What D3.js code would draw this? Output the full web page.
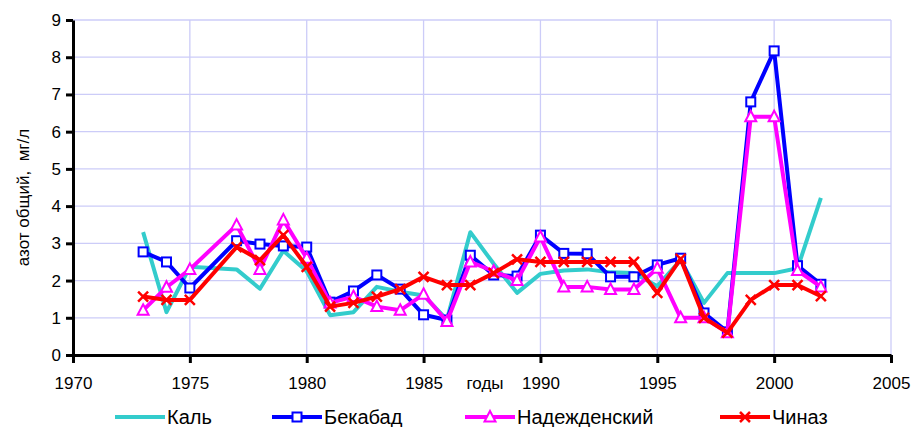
<!DOCTYPE html>
<html>
<head>
<meta charset="utf-8">
<script src="https://cdn.jsdelivr.net/npm/d3@7"></script>
<style>
  body { margin: 0; background: #fff; }
  svg { font-family: "Liberation Sans", Arial, sans-serif; }
</style>
</head>
<body>
<div id="chart"></div>
<script>
// data
var years = [1973, 1974, 1975, 1976, 1977, 1978, 1979, 1980, 1981, 1982,
             1983, 1984, 1985, 1986, 1987, 1988, 1989, 1990, 1991, 1992,
             1993, 1994, 1995, 1996, 1997, 1998, 1999, 2000, 2001, 2002];
var kal = [3.3, 1.15, 2.37, null, 2.3, 1.78, 2.8, 2.25, 1.07, 1.15,
           1.83, 1.7, 1.6, 0.95, 3.3, 2.45, 1.67, 2.18, 2.27, 2.3,
           2.22, 2.2, 1.85, 2.55, 1.4, 2.2, 2.2, 2.2, 2.33, 4.22];
var bekabad = [2.77, 2.5, 1.8, null, 3.07, 2.98, 2.93, 2.9, 1.42, 1.72,
               2.15, 1.77, 1.08, 0.94, 2.68, 2.15, 2.12, 3.22, 2.73, 2.72,
               2.1, 2.1, 2.42, 2.6, 1.13, 0.62, 6.8, 8.17, 2.4, 1.9];
var nadezh = [1.2, 1.82, 2.3, null, 3.49, 2.3, 3.63, 2.6, 1.4, 1.57,
              1.3, 1.2, 1.63, 0.9, 2.5, 2.25, 2.0, 3.17, 1.83, 1.83,
              1.76, 1.76, 2.33, 1.0, 1.0, 0.6, 6.4, 6.4, 2.27, 1.83];
var chinaz = [1.57, 1.48, 1.48, null, 2.9, 2.55, 3.22, 2.37, 1.3, 1.4,
              1.57, 1.77, 2.1, 1.88, 1.88, 2.2, 2.57, 2.5, 2.5, 2.5,
              2.5, 2.5, 1.67, 2.58, 1.0, 0.6, 1.48, 1.88, 1.88, 1.58];
var seriesNames = ["Каль", "Бекабад", "Надежденский", "Чиназ"];
var xTicks = [1970, 1975, 1980, 1985, 1990, 1995, 2000, 2005];
var yTicks = [0, 1, 2, 3, 4, 5, 6, 7, 8, 9];

var w = 912, h = 427;
var plotL = 73, plotR = 891, plotT = 20, plotB = 355;

var svg = d3.select("#chart").append("svg")
    .attr("width", w)
    .attr("height", h);

var x = d3.scaleLinear().domain([1970, 2005]).range([plotL, plotR]);
var y = d3.scaleLinear().domain([0, 9]).range([plotB, plotT]);

var series = [
  {name: seriesNames[0], values: kal, color: "#33cccc", marker: "none"},
  {name: seriesNames[1], values: bekabad, color: "#0000ff", marker: "square"},
  {name: seriesNames[2], values: nadezh, color: "#ff00ff", marker: "triangle"},
  {name: seriesNames[3], values: chinaz, color: "#ff0000", marker: "cross"}
];

// grid
var grid = svg.append("g").attr("class", "grid")
    .attr("stroke", "#ccccf8").attr("stroke-width", 1.3);
grid.selectAll("line.h")
    .data(yTicks.slice(1))
  .enter().append("line")
    .attr("x1", plotL).attr("x2", plotR)
    .attr("y1", function(d) { return y(d); })
    .attr("y2", function(d) { return y(d); });
grid.selectAll("line.v")
    .data(xTicks.slice(1))
  .enter().append("line")
    .attr("y1", plotT).attr("y2", plotB)
    .attr("x1", function(d) { return x(d); })
    .attr("x2", function(d) { return x(d); });

// axes
var xAxis = svg.append("g")
    .attr("transform", "translate(0," + plotB + ")")
    .call(d3.axisBottom(x).tickValues(xTicks).tickFormat(d3.format("d"))
          .tickSize(8).tickSizeOuter(0));
xAxis.selectAll("text").attr("dy", null).attr("y", 34);

var yAxis = svg.append("g")
    .attr("transform", "translate(" + plotL + ",0)")
    .call(d3.axisLeft(y).tickValues(yTicks).tickSize(7).tickPadding(5).tickSizeOuter(0));

svg.selectAll(".domain, .tick line").attr("stroke", "#000").attr("stroke-width", 3);
svg.selectAll(".tick text")
    .attr("font-size", 17)
    .attr("font-family", "Liberation Sans, Arial, sans-serif")
    .attr("fill", "#000");

svg.append("text")
    .attr("x", 485).attr("y", 389)
    .attr("text-anchor", "middle")
    .attr("font-size", 17)
    .text("годы");

svg.append("text")
    .attr("transform", "translate(29," + ((plotT + plotB) / 2 + 10) + ") rotate(-90)")
    .attr("text-anchor", "middle")
    .attr("font-size", 17)
    .style("white-space", "pre")
    .text("азот общий,  мг/л");

// lines
var line = d3.line()
    .x(function(d) { return x(d.yr); })
    .y(function(d) { return y(d.v); });

function points(s) {
  return years.map(function(yr, i) { return {yr: yr, v: s.values[i]}; })
      .filter(function(d) { return d.v != null; });
}

function drawMarker(g, type, color) {
  if (type === "square") {
    g.append("rect").attr("x", -4.5).attr("y", -4.5).attr("width", 9).attr("height", 9)
      .attr("fill", "#fff").attr("stroke", color).attr("stroke-width", 2);
  } else if (type === "triangle") {
    g.append("path").attr("d", "M0,-6L5.5,4.5L-5.5,4.5Z")
      .attr("fill", "#fff").attr("stroke", color).attr("stroke-width", 2);
  } else if (type === "cross") {
    g.append("path").attr("d", "M-5,-5L5,5M-5,5L5,-5")
      .attr("fill", "none").attr("stroke", color).attr("stroke-width", 2.5);
  }
}

series.forEach(function(s) {
  var pts = points(s);
  var g = svg.append("g").attr("class", "series");
  g.append("path")
    .datum(pts)
    .attr("d", line)
    .attr("fill", "none")
    .attr("stroke", s.color)
    .attr("stroke-width", 4)
    .attr("stroke-linejoin", "round");
  if (s.marker !== "none") {
    g.selectAll("g.m")
      .data(pts)
    .enter().append("g")
      .attr("transform", function(d) { return "translate(" + x(d.yr) + "," + y(d.v) + ")"; })
      .each(function() { drawMarker(d3.select(this), s.marker, s.color); });
  }
});

// legend
var legendX = [115, 272, 465, 720];
var legend = svg.append("g").attr("class", "legend");
series.forEach(function(s, i) {
  var lg = legend.append("g").attr("transform", "translate(" + legendX[i] + ",417)");
  lg.append("line").attr("x1", 0).attr("x2", 50).attr("y1", 0).attr("y2", 0)
    .attr("stroke", s.color).attr("stroke-width", 4);
  var m = lg.append("g").attr("transform", "translate(25,0)");
  drawMarker(m, s.marker, s.color);
  lg.append("text").attr("x", 52).attr("y", 7)
    .attr("font-size", 20)
    .text(s.name);
});
</script>
</body>
</html>
